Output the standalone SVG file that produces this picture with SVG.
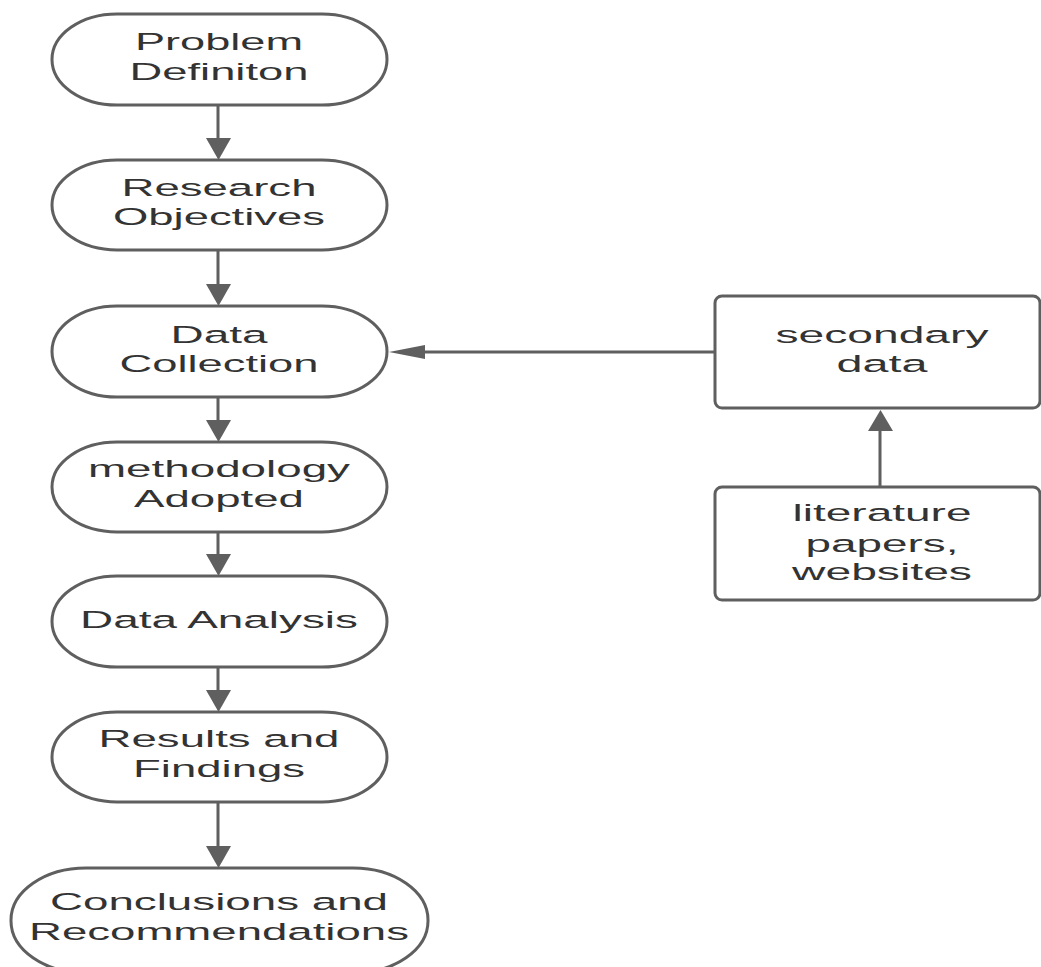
<svg xmlns="http://www.w3.org/2000/svg" width="1041" height="967" viewBox="0 0 1041 967">
<style>
.n{fill:#fff;stroke:#5f5f5f;stroke-width:3}
.t{font-family:"Liberation Sans",Arial,sans-serif;font-size:24.5px;fill:#333;text-anchor:middle}
.c{stroke:#5f5f5f;stroke-width:3;fill:none}
.h{fill:#5f5f5f;stroke:none}
</style>
<rect width="1041" height="967" fill="#fff"/>
<g id="n1"><rect class="n" x="52" y="14" width="335" height="91" rx="65" ry="45.5"/>
<text class="t" x="219" y="50" textLength="168" lengthAdjust="spacingAndGlyphs">Problem</text>
<text class="t" x="219" y="80" textLength="179" lengthAdjust="spacingAndGlyphs">Definiton</text></g>
<g id="n2"><rect class="n" x="52" y="160" width="335" height="90" rx="65" ry="45"/>
<text class="t" x="219" y="196" textLength="195" lengthAdjust="spacingAndGlyphs">Research</text>
<text class="t" x="219" y="225" textLength="212" lengthAdjust="spacingAndGlyphs">Objectives</text></g>
<g id="n3"><rect class="n" x="52" y="306" width="335" height="91" rx="65" ry="45.5"/>
<text class="t" x="219" y="343" textLength="97" lengthAdjust="spacingAndGlyphs">Data</text>
<text class="t" x="219" y="372" textLength="199" lengthAdjust="spacingAndGlyphs">Collection</text></g>
<g id="n4"><rect class="n" x="52" y="442" width="335" height="90" rx="65" ry="45"/>
<text class="t" x="219" y="477" textLength="262" lengthAdjust="spacingAndGlyphs">methodology</text>
<text class="t" x="219" y="507" textLength="170" lengthAdjust="spacingAndGlyphs">Adopted</text></g>
<g id="n5"><rect class="n" x="52" y="576" width="335" height="91" rx="65" ry="45.5"/>
<text class="t" x="219" y="628" textLength="278" lengthAdjust="spacingAndGlyphs">Data Analysis</text></g>
<g id="n6"><rect class="n" x="52" y="712" width="335" height="90" rx="65" ry="45"/>
<text class="t" x="219" y="747" textLength="241" lengthAdjust="spacingAndGlyphs">Results and</text>
<text class="t" x="219" y="777" textLength="172" lengthAdjust="spacingAndGlyphs">Findings</text></g>
<g id="n7"><rect class="n" x="11" y="868" width="417" height="105" rx="75" ry="52"/>
<text class="t" x="219" y="910" textLength="338" lengthAdjust="spacingAndGlyphs">Conclusions and</text>
<text class="t" x="219" y="940" textLength="380" lengthAdjust="spacingAndGlyphs">Recommendations</text></g>
<g id="n8"><rect class="n" x="715" y="296" width="325" height="112" rx="7"/>
<text class="t" x="882" y="343" textLength="213" lengthAdjust="spacingAndGlyphs">secondary</text>
<text class="t" x="882" y="372" textLength="91" lengthAdjust="spacingAndGlyphs">data</text></g>
<g id="n9"><rect class="n" x="715" y="487" width="325" height="113" rx="7"/>
<text class="t" x="882" y="521" textLength="179" lengthAdjust="spacingAndGlyphs">literature</text>
<text class="t" x="882" y="552" textLength="153" lengthAdjust="spacingAndGlyphs">papers,</text>
<text class="t" x="882" y="580" textLength="180" lengthAdjust="spacingAndGlyphs">websites</text></g>
<g id="connectors">
<path class="c" d="M218 105V140M218 250V286M218 397V422M218 532V556M218 667V692M218 802V848M715 352H420M880 487V428"/>
<polygon class="h" points="206,138 231,138 218.5,160"/>
<polygon class="h" points="206,284 231,284 218.5,306"/>
<polygon class="h" points="206,420 231,420 218.5,442"/>
<polygon class="h" points="206,554 231,554 218.5,576"/>
<polygon class="h" points="206,690 231,690 218.5,712"/>
<polygon class="h" points="206,846 231,846 218.5,868"/>
<polygon class="h" points="425,345 425,359 389,352"/>
<polygon class="h" points="868,431 893,431 880.5,410"/>
</g>
</svg>
